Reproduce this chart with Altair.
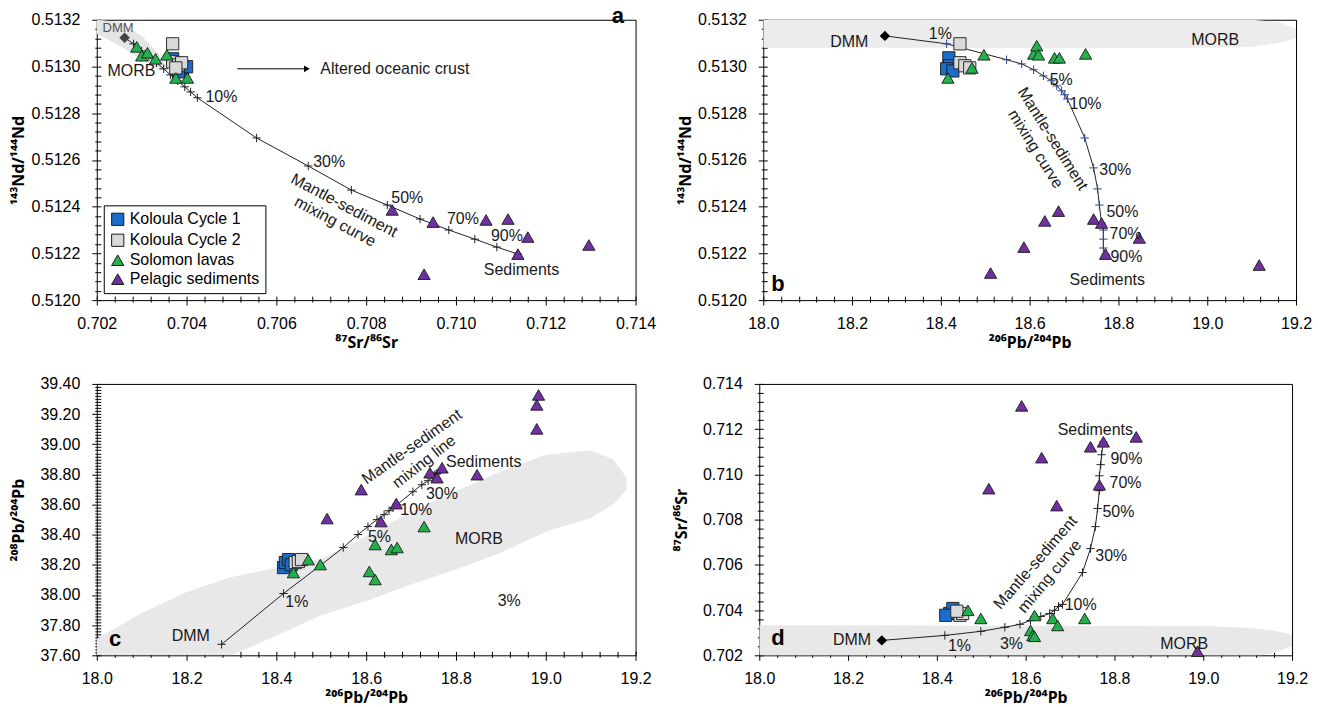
import altair as alt
import pandas as pd

FONT = "Liberation Sans"
TITLE_FONT = "Noto Sans"

# ---------------- groups / styling ----------------
GROUPS = ["Koloula Cycle 1", "Koloula Cycle 2", "Solomon lavas", "Pelagic sediments"]
GROUP_FILLS = ["#1c6cc9", "#d9d9d9", "#22b24c", "#7030a0"]
GROUP_SHAPES = ["square", "square", "triangle-up", "triangle-up"]
GROUP_SIZES = [150, 150, 140, 95]

MIX_PCT = [0, 1, 2, 3, 4, 5, 6, 7, 8, 9, 10, 20, 30, 40, 50, 60, 70, 80, 90, 100]

# ---------------- panel a : 87Sr/86Sr vs 143Nd/144Nd ----------------
A_MIX_SR = [0.70262, 0.70282, 0.70300, 0.70316, 0.70333, 0.70349, 0.70364, 0.70380, 0.70396, 0.70409,
            0.70424, 0.70556, 0.70671, 0.70767, 0.70847, 0.70920, 0.70984, 0.71042, 0.71091, 0.71138]
A_MIX_ND = [0.513123, 0.513097, 0.513067, 0.513041, 0.513016, 0.512990, 0.512964, 0.512939, 0.512913, 0.512891,
            0.512866, 0.512694, 0.512574, 0.512471, 0.512407, 0.512347, 0.512300, 0.512261, 0.512227, 0.512197]
A_K1_SR = [0.70369, 0.70378, 0.70391, 0.70400, 0.70382]
A_K1_ND = [0.513033, 0.513011, 0.512990, 0.512999, 0.512977]
A_K2_SR = [0.70369, 0.70369, 0.70382, 0.70389, 0.70376]
A_K2_ND = [0.513097, 0.513020, 0.513007, 0.513016, 0.512994]
A_SOL_SR = [0.70289, 0.70300, 0.70313, 0.70331, 0.70356, 0.70376, 0.70402]
A_SOL_ND = [0.513084, 0.513046, 0.513059, 0.513033, 0.513050, 0.512951, 0.512951]
A_SED_SR = [0.70858, 0.70949, 0.70929, 0.71067, 0.71116, 0.71160, 0.71138, 0.71296]
A_SED_ND = [0.512386, 0.512334, 0.512111, 0.512343, 0.512347, 0.512270, 0.512197, 0.512236]
A_MORB_SR = [0.70200, 0.70250, 0.70300, 0.70340, 0.70355]
A_MORB_LO = [0.51314, 0.51309, 0.51303, 0.51298, 0.51300]
A_MORB_HI = [0.51320, 0.51319, 0.51313, 0.51305, 0.51300]
A_LAB_TEXT = ["MORB", "10%", "30%", "50%", "70%", "90%", "Sediments", "Altered oceanic crust"]
A_LAB_X = [0.70224, 0.70442, 0.70682, 0.70856, 0.70980, 0.71078, 0.71062, 0.70698]
A_LAB_Y = [0.512981, 0.512870, 0.512591, 0.512437, 0.512347, 0.512274, 0.512129, 0.512990]
A_DMM_LAB = (["DMM"], [0.70213], [0.513166])
A_ROT_TEXT = ["Mantle-sediment", "mixing curve"]
A_ROT_X = [0.70751, 0.70731]
A_ROT_Y = [0.512405, 0.512336]
A_ROT_ANG = [28, 28]
A_ARROW = ([0.70513], [0.70668], [0.512990])
A_LETTER = (["a"], [0.71347], [0.513218])

# ---------------- panel b : 206Pb/204Pb vs 143Nd/144Nd ----------------
B_MIX_PB = [18.274, 18.413, 18.548, 18.582, 18.609, 18.631, 18.649, 18.661, 18.672, 18.679,
            18.685, 18.724, 18.744, 18.753, 18.757, 18.762, 18.766, 18.766, 18.766, 18.771]
B_MIX_ND = [0.513131, 0.513097, 0.513029, 0.513011, 0.512986, 0.512960, 0.512939, 0.512917, 0.512896, 0.512879,
            0.512861, 0.512694, 0.512566, 0.512476, 0.512407, 0.512330, 0.512300, 0.512261, 0.512223, 0.512197]
B_K1_PB = [18.418, 18.420, 18.413, 18.427]
B_K1_ND = [0.513037, 0.513003, 0.512990, 0.512981]
B_K2_PB = [18.443, 18.443, 18.454, 18.465]
B_K2_ND = [0.513097, 0.513016, 0.513003, 0.512994]
B_SOL_PB = [18.416, 18.470, 18.497, 18.609, 18.616, 18.620, 18.656, 18.667, 18.726]
B_SOL_ND = [0.512951, 0.512994, 0.513050, 0.513054, 0.513089, 0.513050, 0.513037, 0.513037, 0.513054]
B_SED_PB = [18.665, 18.634, 18.587, 18.512, 18.744, 18.762, 18.847, 18.771, 19.117]
B_SED_ND = [0.512381, 0.512339, 0.512227, 0.512116, 0.512347, 0.512330, 0.512266, 0.512197, 0.512150]
B_MORB_PB = [18.00, 19.00, 19.10, 19.16, 19.20]
B_MORB_LO = [0.51308, 0.51308, 0.513085, 0.51310, 0.51312]
B_MORB_HI = [0.51320, 0.51320, 0.51320, 0.51319, 0.51316]
B_LAB_TEXT = ["DMM", "1%", "5%", "10%", "30%", "50%", "70%", "90%", "Sediments", "MORB"]
B_LAB_X = [18.151, 18.373, 18.645, 18.690, 18.757, 18.773, 18.780, 18.782, 18.690, 18.964]
B_LAB_Y = [0.513106, 0.513140, 0.512943, 0.512840, 0.512557, 0.512377, 0.512283, 0.512184, 0.512086, 0.513114]
B_ROT_TEXT = ["Mantle-sediment", "mixing curve"]
B_ROT_X = [18.652, 18.613]
B_ROT_Y = [0.512690, 0.512647]
B_ROT_ANG = [58, 58]
B_LETTER = (["b"], [18.018], [0.512069])

# ---------------- panel c : 206Pb/204Pb vs 208Pb/204Pb ----------------
C_MIX_PB6 = [18.278, 18.416, 18.498, 18.549, 18.582, 18.604, 18.624, 18.640, 18.651, 18.660,
             18.669, 18.704, 18.724, 18.738, 18.747, 18.751, 18.753, 18.756, 18.758, 18.760]
C_MIX_PB8 = [37.673, 38.010, 38.196, 38.315, 38.401, 38.454, 38.500, 38.533, 38.559, 38.579,
             38.599, 38.685, 38.731, 38.758, 38.778, 38.791, 38.798, 38.804, 38.804, 38.811]
C_K1_PB6 = [18.416, 18.420, 18.427, 18.433]
C_K1_PB8 = [38.182, 38.215, 38.235, 38.200]
C_K2_PB6 = [18.442, 18.449, 18.456]
C_K2_PB8 = [38.215, 38.222, 38.235]
C_SOL_PB6 = [18.438, 18.471, 18.498, 18.620, 18.656, 18.669, 18.729, 18.607, 18.620]
C_SOL_PB8 = [38.149, 38.235, 38.202, 38.335, 38.302, 38.315, 38.454, 38.156, 38.103]
C_SED_PB6 = [18.984, 18.980, 18.980, 18.589, 18.513, 18.633, 18.667, 18.742, 18.769, 18.758, 18.847]
C_SED_PB8 = [39.327, 39.261, 39.102, 38.699, 38.507, 38.487, 38.606, 38.811, 38.844, 38.778, 38.798]
C_MORB_PB6 = [18.00, 18.10, 18.20, 18.30, 18.40, 18.50, 18.60, 18.70, 18.80, 18.90, 19.00, 19.10, 19.15, 19.18]
C_MORB_LO = [37.60, 37.60, 37.60, 37.60, 37.73, 37.865, 37.96, 38.07, 38.17, 38.28, 38.42, 38.51, 38.60, 38.70]
C_MORB_HI = [37.71, 37.88, 38.02, 38.12, 38.18, 38.24, 38.39, 38.55, 38.69, 38.82, 38.93, 38.96, 38.90, 38.78]
C_LAB_TEXT = ["DMM", "1%", "5%", "10%", "30%", "Sediments", "MORB", "3%"]
C_LAB_X = [18.167, 18.420, 18.604, 18.676, 18.733, 18.778, 18.798, 18.893]
C_LAB_Y = [37.726, 37.951, 38.387, 38.566, 38.672, 38.884, 38.374, 37.957]
C_ROT_TEXT = ["Mantle-sediment", "mixing line"]
C_ROT_X = [18.702, 18.729]
C_ROT_Y = [38.983, 38.884]
C_ROT_ANG = [325, 322]
C_LETTER = (["c"], [18.027], [37.710])

# ---------------- panel d : 206Pb/204Pb vs 87Sr/86Sr ----------------
D_MIX_PB = [18.276, 18.418, 18.499, 18.553, 18.587, 18.611, 18.634, 18.654, 18.665, 18.674,
            18.683, 18.728, 18.746, 18.757, 18.762, 18.766, 18.766, 18.769, 18.771, 18.775]
D_MIX_SR = [0.70266, 0.70288, 0.70306, 0.70324, 0.70337, 0.70354, 0.70372, 0.70385, 0.70399, 0.70416,
            0.70425, 0.70566, 0.70672, 0.70769, 0.70849, 0.70928, 0.70994, 0.71043, 0.71087, 0.71144]
D_K1_PB = [18.429, 18.436, 18.420]
D_K1_SR = [0.70385, 0.70407, 0.70377]
D_K2_PB = [18.452, 18.458, 18.445]
D_K2_SR = [0.70377, 0.70385, 0.70395]
D_SOL_PB = [18.470, 18.499, 18.620, 18.611, 18.616, 18.620, 18.661, 18.672, 18.733]
D_SOL_SR = [0.70399, 0.70363, 0.70376, 0.70310, 0.70288, 0.70284, 0.70363, 0.70332, 0.70363]
D_SED_PB = [18.591, 18.636, 18.517, 18.670, 18.746, 18.775, 18.849, 18.766, 18.987]
D_SED_SR = [0.71303, 0.71074, 0.70937, 0.70862, 0.71122, 0.71144, 0.71166, 0.70954, 0.70218]
D_MORB_PB = [18.00, 19.00, 19.10, 19.16, 19.20]
D_MORB_LO = [0.70180, 0.70180, 0.70190, 0.70210, 0.70240]
D_MORB_HI = [0.70333, 0.70330, 0.70322, 0.70310, 0.70290]
D_LAB_TEXT = ["DMM", "1%", "3%", "10%", "30%", "50%", "70%", "90%", "Sediments", "MORB"]
D_LAB_X = [18.166, 18.425, 18.542, 18.688, 18.757, 18.773, 18.789, 18.791, 18.672, 18.903]
D_LAB_Y = [0.70266, 0.70240, 0.70249, 0.70421, 0.70641, 0.70835, 0.70963, 0.71069, 0.71197, 0.70249]
D_ROT_TEXT = ["Mantle-sediment", "mixing curve"]
D_ROT_X = [18.622, 18.654]
D_ROT_Y = [0.70610, 0.70549]
D_ROT_ANG = [311, 310]
D_LETTER = (["d"], [18.027], [0.70275])

PLUS = "M-1,0L1,0M0,-1L0,1"

COLOR_SCALE = alt.Scale(domain=GROUPS, range=GROUP_FILLS)
SHAPE_SCALE = alt.Scale(domain=GROUPS, range=GROUP_SHAPES)
SIZE_SCALE = alt.Scale(domain=GROUPS, range=GROUP_SIZES)
LEGEND_A = alt.Legend(title=None, orient="bottom-left", offset=7, strokeColor="black",
                      fillColor="white", padding=6, labelFontSize=16, labelFont=FONT, labelColor="black",
                      symbolSize=140, symbolStrokeColor="#1a1a1a", symbolStrokeWidth=1, rowPadding=3)


def ticks(lo, hi, step):
    n = int(round((hi - lo) / step))
    return [round(lo + i * step, 6) for i in range(n + 1)]


def make_axis(title, lo, hi, major, minor, fmt, title_pad):
    test = f"abs(datum.value / {major} - round(datum.value / {major})) < 0.01"
    return alt.Axis(
        title=title,
        values=ticks(lo, hi, minor),
        labelExpr=f"({test}) ? format(datum.value, '{fmt}') : ''",
        tickSize={"condition": {"test": test, "value": 9}, "value": 6},
        titlePadding=title_pad,
    )


def points_frame(sets):
    rows = []
    for g, xs, ys in sets:
        for xv, yv in zip(xs, ys):
            rows.append({"group": g, "gsize": g, "x": xv, "y": yv})
    return pd.DataFrame(rows)


def panel(X, Y, width, height, field, field_color, mix_x, mix_y, dmm_diamond, dmm_color,
          cross_color, pts, labels, rot, letter, legend, extra=None):
    mix = pd.DataFrame({"pct": MIX_PCT, "x": mix_x, "y": mix_y})
    layers = []
    fdf = pd.DataFrame({"x": field[0], "y": field[1], "y2": field[2]})
    layers.append(alt.Chart(fdf).mark_area(color=field_color, clip=True)
                  .encode(x=X, y=Y, y2=alt.Y2("y2:Q")))
    layers.append(alt.Chart(mix).mark_line(color="#222222", strokeWidth=1)
                  .encode(x=X, y=Y, order=alt.Order("pct:Q")))
    cross_df = mix[mix["pct"] > 0] if dmm_diamond else mix
    layers.append(alt.Chart(cross_df).mark_point(shape=PLUS, filled=False, size=70, color=cross_color,
                                                 strokeWidth=1, opacity=1)
                  .encode(x=X, y=Y))
    if dmm_diamond:
        layers.append(alt.Chart(mix[mix["pct"] == 0]).mark_point(shape="diamond", filled=True, size=110,
                                                                 color=dmm_color, opacity=1)
                      .encode(x=X, y=Y))
    if extra is not None:
        layers.extend(extra)
    layers.append(alt.Chart(pts).mark_point(filled=True, stroke="#1a1a1a", strokeWidth=0.9, opacity=1)
                  .encode(x=X, y=Y,
                          color=alt.Color("group:N", scale=COLOR_SCALE, legend=legend),
                          shape=alt.Shape("group:N", scale=SHAPE_SCALE, legend=legend),
                          size=alt.Size("gsize:N", scale=SIZE_SCALE, legend=None)))
    ldf = pd.DataFrame({"t": labels[0], "x": labels[1], "y": labels[2]})
    layers.append(alt.Chart(ldf).mark_text(align="left", baseline="middle", fontSize=16, color="#1a1a1a", font=FONT)
                  .encode(x=X, y=Y, text="t:N"))
    rdf = pd.DataFrame({"t": rot[0], "x": rot[1], "y": rot[2], "a": rot[3]})
    layers.append(alt.Chart(rdf).mark_text(align="center", baseline="middle", fontSize=16, color="#1a1a1a", font=FONT)
                  .encode(x=X, y=Y, text="t:N", angle=alt.Angle("a:Q", scale=None)))
    tdf = pd.DataFrame({"t": letter[0], "x": letter[1], "y": letter[2]})
    layers.append(alt.Chart(tdf).mark_text(align="left", baseline="middle", fontSize=22, fontWeight="bold",
                                           color="black", font=FONT)
                  .encode(x=X, y=Y, text="t:N"))
    return alt.layer(*layers).properties(width=width, height=height)


# ---------- panel a ----------
XA = alt.X("x:Q", scale=alt.Scale(domain=[0.702, 0.714], nice=False, zero=False),
           axis=make_axis("⁸⁷Sr/⁸⁶Sr", 0.702, 0.714, 0.002, 0.0004, ".3f", 12))
YA = alt.Y("y:Q", scale=alt.Scale(domain=[0.5120, 0.5132], nice=False, zero=False),
           axis=make_axis("¹⁴³Nd/¹⁴⁴Nd", 0.5120, 0.5132, 0.0002, 0.00004, ".4f", 8))
pts_a = points_frame([(GROUPS[0], A_K1_SR, A_K1_ND), (GROUPS[1], A_K2_SR, A_K2_ND),
                      (GROUPS[2], A_SOL_SR, A_SOL_ND), (GROUPS[3], A_SED_SR, A_SED_ND)])
arrow_df = pd.DataFrame({"x": A_ARROW[0], "x2": A_ARROW[1], "y": A_ARROW[2]})
head_df = pd.DataFrame({"x": A_ARROW[1], "y": A_ARROW[2]})
dmm_a_df = pd.DataFrame({"t": A_DMM_LAB[0], "x": A_DMM_LAB[1], "y": A_DMM_LAB[2]})
extra_a = [
    alt.Chart(arrow_df).mark_rule(color="black", strokeWidth=1).encode(x=XA, x2=alt.X2("x2:Q"), y=YA),
    alt.Chart(head_df).mark_point(shape="triangle-right", filled=True, size=45, color="black", opacity=1)
    .encode(x=XA, y=YA),
    alt.Chart(dmm_a_df).mark_text(align="left", baseline="middle", fontSize=13, color="#555555", font=FONT)
    .encode(x=XA, y=YA, text="t:N"),
]
chart_a = panel(XA, YA, 540, 281, (A_MORB_SR, A_MORB_LO, A_MORB_HI), "#e4e4e4", A_MIX_SR, A_MIX_ND,
                True, "#444444", "#222222", pts_a, (A_LAB_TEXT, A_LAB_X, A_LAB_Y),
                (A_ROT_TEXT, A_ROT_X, A_ROT_Y, A_ROT_ANG), A_LETTER, LEGEND_A, extra_a)

# ---------- panel b ----------
XB = alt.X("x:Q", scale=alt.Scale(domain=[18.0, 19.2], nice=False, zero=False),
           axis=make_axis("²⁰⁶Pb/²⁰⁴Pb", 18.0, 19.2, 0.2, 0.04, ".1f", 12))
YB = alt.Y("y:Q", scale=alt.Scale(domain=[0.5120, 0.5132], nice=False, zero=False),
           axis=make_axis("¹⁴³Nd/¹⁴⁴Nd", 0.5120, 0.5132, 0.0002, 0.00004, ".4f", 8))
pts_b = points_frame([(GROUPS[0], B_K1_PB, B_K1_ND), (GROUPS[1], B_K2_PB, B_K2_ND),
                      (GROUPS[2], B_SOL_PB, B_SOL_ND), (GROUPS[3], B_SED_PB, B_SED_ND)])
chart_b = panel(XB, YB, 534, 281, (B_MORB_PB, B_MORB_LO, B_MORB_HI), "#ececec", B_MIX_PB, B_MIX_ND,
                True, "black", "#2b3f8f", pts_b, (B_LAB_TEXT, B_LAB_X, B_LAB_Y),
                (B_ROT_TEXT, B_ROT_X, B_ROT_Y, B_ROT_ANG), B_LETTER, None)

# ---------- panel c ----------
XC = alt.X("x:Q", scale=alt.Scale(domain=[18.0, 19.2], nice=False, zero=False),
           axis=make_axis("²⁰⁶Pb/²⁰⁴Pb", 18.0, 19.2, 0.2, 0.04, ".1f", 12))
YC = alt.Y("y:Q", scale=alt.Scale(domain=[37.6, 39.4], nice=False, zero=False),
           axis=make_axis("²⁰⁸Pb/²⁰⁴Pb", 37.6, 39.4, 0.2, 0.02, ".2f", 8))
pts_c = points_frame([(GROUPS[0], C_K1_PB6, C_K1_PB8), (GROUPS[1], C_K2_PB6, C_K2_PB8),
                      (GROUPS[2], C_SOL_PB6, C_SOL_PB8), (GROUPS[3], C_SED_PB6, C_SED_PB8)])
chart_c = panel(XC, YC, 540, 272, (C_MORB_PB6, C_MORB_LO, C_MORB_HI), "#e8e8e8", C_MIX_PB6, C_MIX_PB8,
                False, "black", "#222222", pts_c, (C_LAB_TEXT, C_LAB_X, C_LAB_Y),
                (C_ROT_TEXT, C_ROT_X, C_ROT_Y, C_ROT_ANG), C_LETTER, None)

# ---------- panel d ----------
XD = alt.X("x:Q", scale=alt.Scale(domain=[18.0, 19.2], nice=False, zero=False),
           axis=make_axis("²⁰⁶Pb/²⁰⁴Pb", 18.0, 19.2, 0.2, 0.04, ".1f", 12))
YD = alt.Y("y:Q", scale=alt.Scale(domain=[0.702, 0.714], nice=False, zero=False),
           axis=make_axis("⁸⁷Sr/⁸⁶Sr", 0.702, 0.714, 0.002, 0.0004, ".3f", 8))
pts_d = points_frame([(GROUPS[0], D_K1_PB, D_K1_SR), (GROUPS[1], D_K2_PB, D_K2_SR),
                      (GROUPS[2], D_SOL_PB, D_SOL_SR), (GROUPS[3], D_SED_PB, D_SED_SR)])
chart_d = panel(XD, YD, 534, 272, (D_MORB_PB, D_MORB_LO, D_MORB_HI), "#e8e8e8", D_MIX_PB, D_MIX_SR,
                True, "black", "#222222", pts_d, (D_LAB_TEXT, D_LAB_X, D_LAB_Y),
                (D_ROT_TEXT, D_ROT_X, D_ROT_Y, D_ROT_ANG), D_LETTER, None)

IND = dict(color="independent", shape="independent", size="independent")
top = alt.hconcat(chart_a, chart_b, spacing=20).resolve_scale(**IND).resolve_legend(**IND)
bottom = alt.hconcat(chart_c, chart_d, spacing=20).resolve_scale(**IND).resolve_legend(**IND)

chart = (
    alt.vconcat(top, bottom, spacing=24)
    .resolve_scale(**IND).resolve_legend(**IND)
    .properties(padding={"left": 10, "top": 3, "right": 5, "bottom": 0}, background="white")
    .configure(font=FONT)
    .configure_view(stroke="black", strokeWidth=1)
    .configure_axis(domain=False, grid=False, tickColor="black", tickWidth=1, labelFont=FONT,
                    labelFontSize=16, labelColor="black", titleFont=TITLE_FONT, titleFontSize=16,
                    titleFontWeight="bold", titleColor="black", labelFlush=False, labelOverlap=False,
                    offset=-4)
    .configure_axisX(minExtent=26, maxExtent=26, labelPadding=10)
    .configure_axisY(minExtent=66, maxExtent=66, labelPadding=12)
)

chart.save("out.html", embed_options={"renderer": "svg", "actions": False})
